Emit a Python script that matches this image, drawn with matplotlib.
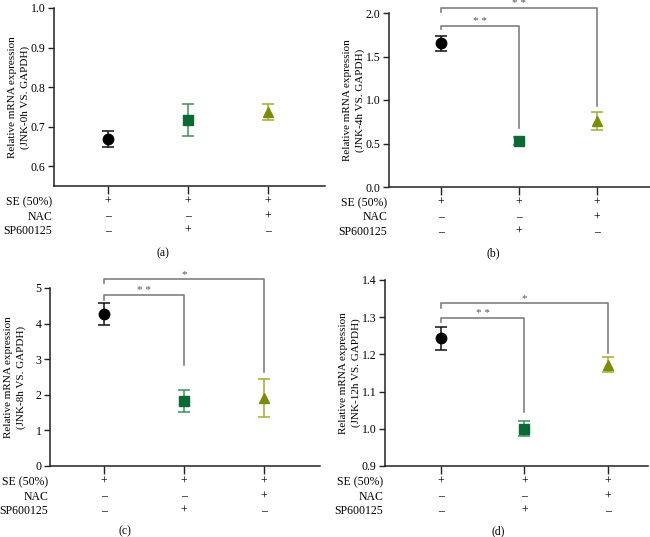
import matplotlib
matplotlib.use("Agg")
import matplotlib.pyplot as plt

plt.rcParams['font.family'] = ['Liberation Serif', 'DejaVu Serif']

W, H = 650, 537

groups = ["SE (50%)", "NAC", "SP600125"]
signs = [["+", "+", "+"], ["–", "–", "+"], ["–", "+", "–"]]

panel_labels = ["(a)", "(b)", "(c)", "(d)"]
ylabels = ["Relative mRNA expression\n(JNK-0h VS. GAPDH)",
           "Relative mRNA expression\n(JNK-4h VS. GAPDH)",
           "Relative mRNA expression\n(JNK-8h VS. GAPDH)",
           "Relative mRNA expression\n(JNK-12h VS. GAPDH)"]

means_a = [0.669, 0.717, 0.737]
errs_a = [0.020, 0.040, 0.020]
means_b = [1.65, 0.53, 0.76]
errs_b = [0.09, 0.045, 0.10]
means_c = [4.26, 1.83, 1.91]
errs_c = [0.31, 0.30, 0.52]
means_d = [1.243, 1.000, 1.172]
errs_d = [0.030, 0.020, 0.020]

ylims = [(0.55, 1.0), (0.0, 2.0), (0.0, 5.0), (0.9, 1.4)]
yticks = [[0.6, 0.7, 0.8, 0.9, 1.0], [0.0, 0.5, 1.0, 1.5, 2.0],
          [0, 1, 2, 3, 4, 5], [0.9, 1.0, 1.1, 1.2, 1.3, 1.4]]
ytick_fmt = ["{:.1f}", "{:.1f}", "{:d}", "{:.1f}"]

# significance brackets: (left x, right x, bar y, left leg end y, right leg end y, text)
brackets_b = [(0, 1, 1.854, 1.815, 0.673, "* *"), (0, 2, 2.06, 2.015, 0.93, "* *")]
brackets_c = [(0, 1, 4.81, 4.67, 2.84, "* *"), (0, 2, 5.25, 5.14, 2.65, "*")]
brackets_d = [(0, 1, 1.297, 1.288, 1.044, "* *"), (0, 2, 1.339, 1.326, 1.203, "*")]

means = [means_a, means_b, means_c, means_d]
errs = [errs_a, errs_b, errs_c, errs_d]
brackets = [[], brackets_b, brackets_c, brackets_d]

markers = ["o", "s", "^"]
mcolors = ["#000000", "#0b6a33", "#7d8c06"]
ecolors = ["#111111", "#3f8f5d", "#a3ac2c"]
msizes = [7.5, 6.5, 7]

# axes boxes in pixels: left, right, top(y of ymax), bottom
boxes = [(54, 325, 8, 186), (389, 650, 13, 187), (50, 320, 288, 466), (385, 648, 280, 466)]
xlims = [(-0.675, 2.71), (-0.66, 2.68), (-0.675, 2.70), (-0.67, 2.48)]
label_pos = [(163, 253), (493, 253), (125, 531), (498, 531)]

fig = plt.figure(figsize=(W / 100, H / 100), dpi=100)

fs = 8.5
for i in range(4):
    l, r, t, b = boxes[i]
    ax = fig.add_axes([l / W, 1 - b / H, (r - l) / W, (b - t) / H])
    x = list(range(3))
    for j in range(3):
        ax.errorbar(x[j], means[i][j], yerr=errs[i][j], fmt=markers[j],
                    color=mcolors[j], ecolor=ecolors[j], elinewidth=1.1,
                    capsize=4, capthick=1.1, markersize=msizes[j], zorder=3,
                    clip_on=False)
    for (x0, x1, yb, yl, yr, txt) in brackets[i]:
        ax.plot([x0, x0, x1, x1], [yl, yb, yb, yr], color="#808080", lw=1.2,
                clip_on=False, zorder=2)
        ax.text((x0 + x1) / 2, yb, txt, ha="center", va="bottom", fontsize=8,
                color="#555555", clip_on=False)
    ax.set_xlim(*xlims[i])
    ax.set_ylim(*ylims[i])
    ax.set_yticks(yticks[i])
    ax.set_yticklabels([ytick_fmt[i].format(v) for v in yticks[i]], fontsize=fs)
    ax.set_xticks(x)
    ax.set_xticklabels([])
    ax.tick_params(axis="x", length=6, width=1, direction="out", color="#222222")
    ax.tick_params(axis="y", length=4, width=1, direction="out", color="#222222", pad=2)
    for s in ["top", "right"]:
        ax.spines[s].set_visible(False)
    for s in ["left", "bottom"]:
        ax.spines[s].set_linewidth(1.1)
        ax.spines[s].set_color("#222222")
    ax.set_ylabel(ylabels[i], fontsize=8, linespacing=1.45)
    ax.yaxis.set_label_coords(-24.0 / (r - l), 0.5)
    # condition rows
    for k, g in enumerate(groups):
        ypix = b + 16 + k * 14.5
        fig.text((l - 2) / W, 1 - ypix / H, g, ha="right", va="center", fontsize=fs)
        for j in range(3):
            xpix = l + (x[j] - xlims[i][0]) / (xlims[i][1] - xlims[i][0]) * (r - l)
            fig.text(xpix / W, 1 - ypix / H, signs[k][j], ha="center", va="center",
                     fontsize=fs)
    fig.text(label_pos[i][0] / W, 1 - label_pos[i][1] / H, panel_labels[i],
             ha="center", va="center", fontsize=fs)

fig.savefig("out.png", dpi=100)
